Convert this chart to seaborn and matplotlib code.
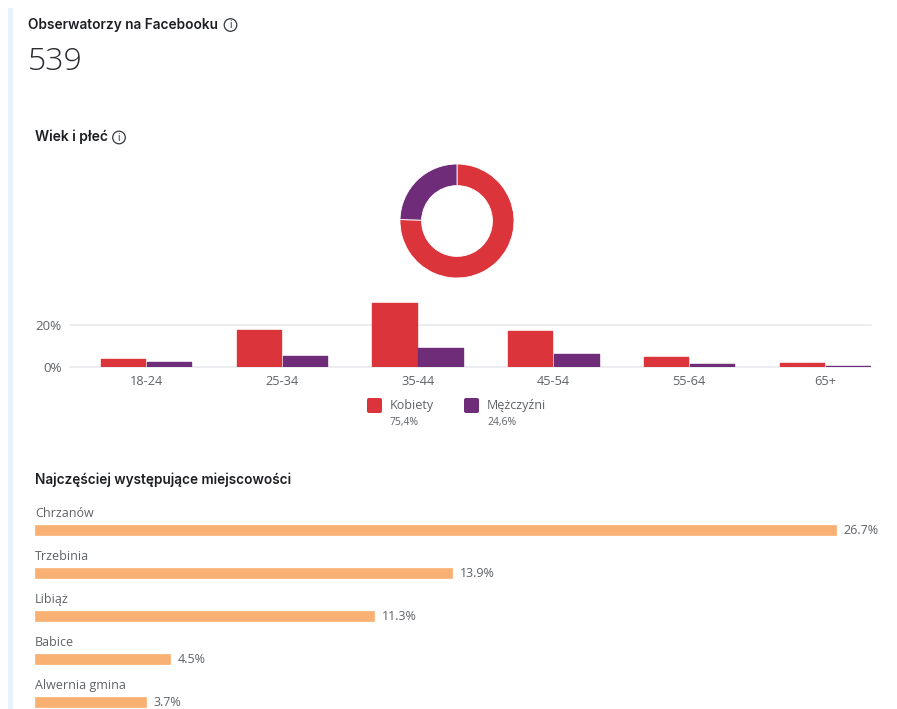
import numpy as np
import pandas as pd
import matplotlib
matplotlib.use("Agg")
import matplotlib.pyplot as plt
import seaborn as sns
from matplotlib.patches import Circle, FancyBboxPatch, Rectangle

W, H = 897, 709

age_groups = ["18-24", "25-34", "35-44", "45-54", "55-64", "65+"]
women = [3.7, 17.5, 30.8, 17.0, 4.9, 2.0]
men = [2.3, 5.2, 9.2, 6.0, 1.6, 0.5]
gender_names = ["Kobiety", "Mężczyźni"]
gender_share = [75.4, 24.6]
gender_share_labels = ["75,4%", "24,6%"]
towns = ["Chrzanów", "Trzebinia", "Libiąż", "Babice", "Alwernia gmina"]
town_share = [26.7, 13.9, 11.3, 4.5, 3.7]

RED = "#dc343b"
PURPLE = "#6f2c79"
ORANGE = "#f9b173"
TEXT = "#1c1e21"
GREY = "#5f6266"

sns.set_theme(style="white")
plt.rcParams["font.family"] = ["Open Sans", "DejaVu Sans"]

fig = plt.figure(figsize=(W / 100, H / 100), dpi=100, facecolor="white")


def px_axes(left, top, right, bottom):
    # axes placed by pixel box of the reference
    return fig.add_axes([left / W, 1 - bottom / H, (right - left) / W, (bottom - top) / H])


# page furniture and texts in pixel coordinates
page = fig.add_axes([0, 0, 1, 1])
page.set_xlim(0, W)
page.set_ylim(H, 0)
page.axis("off")
page.add_patch(Rectangle((8, 8), 5, H - 8, color="#e6f1fb", lw=0))


def info_icon(x, y):
    page.add_patch(Circle((x, y), 6.3, fill=False, ec="#33363a", lw=0.9))
    page.text(x, y + 0.3, "i", fontsize=7.5, color="#33363a", ha="center", va="center", family="Inter")


page.text(28, 24.5, "Obserwatorzy na Facebooku", fontsize=9.85, fontweight="semibold", family="Inter",
          color=TEXT, va="center")
info_icon(230.5, 25)
page.text(28, 62, "539", fontsize=23, family="Open Sans", fontweight="light", color="#2a2c30", va="center")
page.text(35, 137, "Wiek i płeć", fontsize=10, fontweight="semibold", family="Inter", color=TEXT, va="center")
info_icon(119, 137.5)
page.text(35, 480, "Najczęściej występujące miejscowości", fontsize=9.8, fontweight="semibold",
          family="Inter", color=TEXT, va="center")

# legend under the columns
for x, name, share, color in zip([367, 464], gender_names, gender_share_labels, [RED, PURPLE]):
    page.add_patch(FancyBboxPatch((x + 2, 400), 11, 11, boxstyle="round,pad=2", color=color, lw=0))
    page.text(x + 23, 405, name, fontsize=9, color=GREY, va="center")
    page.text(x + 23, 422, share, fontsize=7.5, color=GREY, va="center")

# donut
ax_pie = px_axes(397, 161, 517, 281)
ax_pie.pie(gender_share, colors=[RED, PURPLE], startangle=90, counterclock=False, radius=0.95,
           wedgeprops={"width": 0.36, "edgecolor": "white", "linewidth": 0.6})
ax_pie.set_xlim(-1, 1)
ax_pie.set_ylim(-1, 1)

# age columns
ages = pd.DataFrame({
    "age": age_groups * 2,
    "share": women + men,
    "gender": [gender_names[0]] * len(women) + [gender_names[1]] * len(men),
})
ax_bar = px_axes(70, 300, 871, 367)
ax_bar.patch.set_alpha(0)
sns.barplot(data=ages, x="age", y="share", hue="gender", palette=[RED, PURPLE], saturation=1,
            width=0.68, gap=0.04, legend=False, ax=ax_bar)
for bar in ax_bar.patches:
    bar.set_edgecolor(bar.get_facecolor())
    bar.set_linewidth(1)
    bar.set_joinstyle("round")
    bar.set_zorder(3)
ax_bar.set_xlim(-0.56, 5.34)
ax_bar.set_ylim(0, 32)
ax_bar.set_yticks([0, 20], ["0%", "20%"])
ax_bar.set_xlabel("")
ax_bar.set_ylabel("")
ax_bar.grid(axis="y", color="#e9eaed", lw=1.2, clip_on=False)
ax_bar.set_axisbelow(True)
sns.despine(ax=ax_bar, left=True, top=True, right=True, bottom=True)
ax_bar.tick_params(axis="both", length=0, labelcolor=GREY)
ax_bar.tick_params(axis="x", pad=6, labelsize=9.2)
ax_bar.tick_params(axis="y", pad=6, labelsize=9.6)

# towns, horizontal bars with the name above each bar
ax_town = px_axes(35, 487, W, H)
ax_town.patch.set_alpha(0)
sns.barplot(x=town_share, y=towns, color=ORANGE, saturation=1, width=0.25, ax=ax_town)
for bar in ax_town.patches:
    bar.set_edgecolor(ORANGE)
    bar.set_linewidth(0.5)
    bar.set_joinstyle("round")
ax_town.set_xlim(0, (W - 35) / 30)
ax_town.set_ylim((H - 530) / 43, -1)
ax_town.axis("off")
for i, (town, share) in enumerate(zip(towns, town_share)):
    ax_town.text(0, i - 0.385, town, fontsize=9, color=GREY, va="center")
    ax_town.text(share + 0.25, i + 0.02, f"{share}%", fontsize=9, color=GREY, va="center")

fig.savefig("out.png", dpi=100, facecolor="white")
plt.close(fig)
